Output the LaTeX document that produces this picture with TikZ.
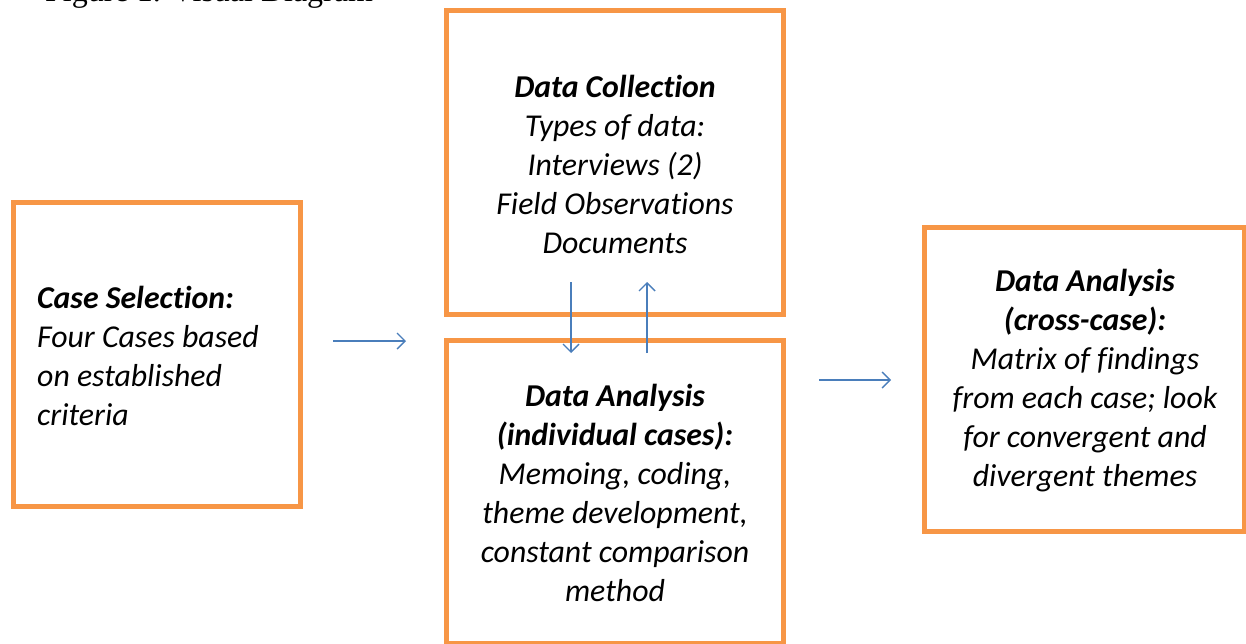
\documentclass[tikz,border=0pt]{standalone}
\usepackage{fontspec}
\setmainfont[Ligatures={NoCommon}]{Carlito}
\newfontfamily\figfont{Liberation Serif}
\usetikzlibrary{arrows.meta}
\definecolor{boxorange}{HTML}{F79646}
\definecolor{arrowblue}{HTML}{4A7EBB}
\tikzset{
  frame/.style={draw=boxorange, line width=5pt},
  txt/.style={font=\fontsize{31.8}{39}\selectfont\itshape, align=center, inner sep=0pt},
  flow/.style={draw=arrowblue, line width=1.4pt, -{Straight Barb[length=8pt,width=16pt,line width=1.4pt]}}
}
\begin{document}
\begin{tikzpicture}[x=1pt,y=-1pt]
\useasboundingbox (0,0) rectangle (1246,643);
\begin{scope}
\clip (0,0) rectangle (1246,643);
\node[anchor=base west, inner sep=0pt, font=\figfont\fontsize{32}{38}\selectfont] (fig) at (45,1.5) {Figure 1. Visual Diagram};
% boxes
\draw[frame] (13.5,202.5) rectangle (300.5,506.5);
\draw[frame] (446.5,10.5) rectangle (783.5,314.5);
\draw[frame] (446.5,340.5) rectangle (783.5,643.5);
\draw[frame] (924.5,227.5) rectangle (1244.5,531.5);
\end{scope}
% texts
\node[txt, align=left, anchor=west] (cs) at (37,356) {\textbf{Case Selection:}\\Four Cases based\\on established\\criteria};
\node[txt] (dc) at (615,164) {\textbf{Data Collection}\\Types of data:\\Interviews (2)\\Field Observations\\Documents};
\node[txt] (dai) at (615,493) {\textbf{Data Analysis}\\\textbf{(individual cases):}\\Memoing, coding,\\theme development,\\constant comparison\\method};
\node[txt] (dac) at (1085,381) {\textbf{Data Analysis}\\\textbf{(cross-case):}\\Matrix of findings\\from each case; look\\for convergent and\\divergent themes};
% arrow anchor points
\coordinate (a1s) at (333,341);
\coordinate (a1e) at (406,341);
\coordinate (a2s) at (571,282);
\coordinate (a2e) at (571,353);
\coordinate (a3s) at (647,353);
\coordinate (a3e) at (647,282);
\coordinate (a4s) at (819,380);
\coordinate (a4e) at (891,380);
\draw[flow] (a1s) -- (a1e);
\draw[flow] (a2s) -- (a2e);
\draw[flow] (a3s) -- (a3e);
\draw[flow] (a4s) -- (a4e);
\end{tikzpicture}
\end{document}
